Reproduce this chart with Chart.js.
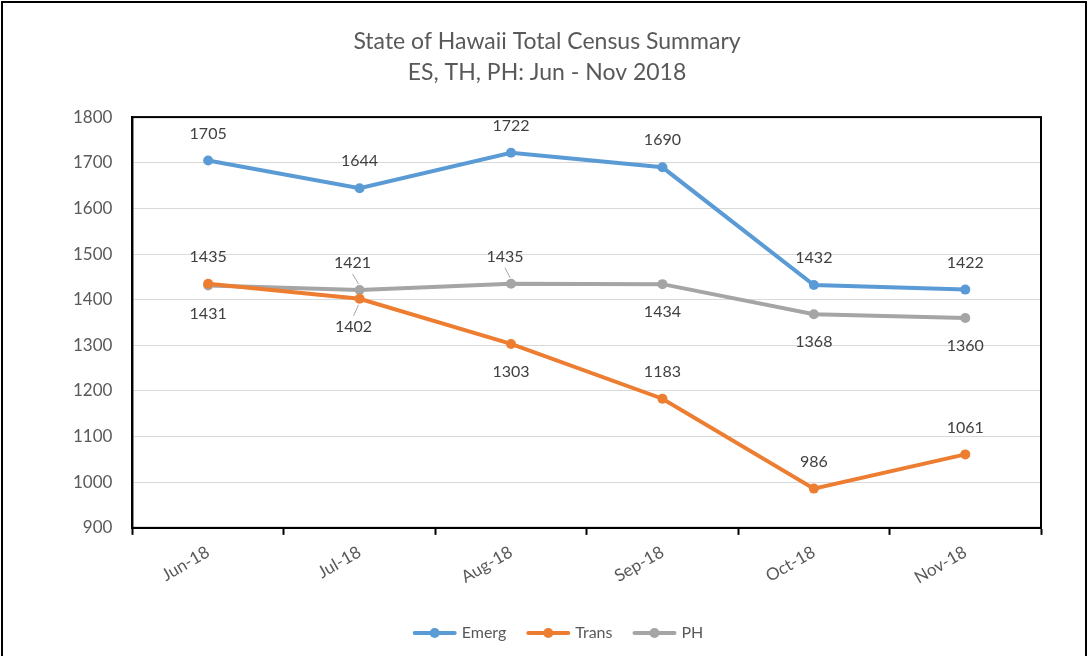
<!DOCTYPE html>
<html>
<head>
<meta charset="utf-8">
<script src="https://cdn.jsdelivr.net/npm/chart.js@4"></script>
<style>
  html, body { margin: 0; padding: 0; background: #fff; }
  #wrap { position: relative; width: 1088px; height: 656px; }
</style>
</head>
<body>
<div id="wrap"><canvas id="censusChart" width="1088" height="656"></canvas></div>
<script>
// data
var months = ['Jun-18', 'Jul-18', 'Aug-18', 'Sep-18', 'Oct-18', 'Nov-18'];
var emerg = [1705, 1644, 1722, 1690, 1432, 1422];
var trans = [1435, 1402, 1303, 1183, 986, 1061];
var ph = [1431, 1421, 1435, 1434, 1368, 1360];
var yTicks = [900, 1000, 1100, 1200, 1300, 1400, 1500, 1600, 1700, 1800];

// label placement: 1 = above the point, -1 = below
var labelSide = {
    Emerg: [1, 1, 1, 1, 1, 1],
    Trans: [1, -1, -1, 1, 1, 1],
    PH: [-1, 1, 1, -1, -1, -1]
};
// a few labels are nudged sideways with a leader line, like excel does
var labelNudge = {
    Trans: { 1: -6 },
    PH: { 1: -7, 2: -6 }
};

var FONT = 'Lato, "Open Sans", sans-serif';

// draws value labels next to the points
var pointLabels = {
    id: 'pointLabels',
    afterDatasetsDraw: function (chart) {
        var ctx = chart.ctx;
        ctx.save();
        ctx.font = '16px ' + FONT;
        ctx.fillStyle = '#404040';
        ctx.textAlign = 'center';
        ctx.textBaseline = 'middle';
        chart.data.datasets.forEach(function (ds, di) {
            var meta = chart.getDatasetMeta(di);
            var sides = labelSide[ds.label];
            var nudge = labelNudge[ds.label] || {};
            meta.data.forEach(function (pt, i) {
                var dy = sides[i] > 0 ? -27 : 28;
                var dx = nudge[i] || 0;
                var lx = pt.x + dx, ly = pt.y + dy;
                if (dx) {
                    ctx.strokeStyle = '#a6a6a6';
                    ctx.lineWidth = 1;
                    ctx.beginPath();
                    ctx.moveTo(pt.x - 1, pt.y + (sides[i] > 0 ? -6 : 6));
                    ctx.lineTo(lx, ly + (sides[i] > 0 ? 11 : -11));
                    ctx.stroke();
                }
                ctx.fillText(ds.data[i], lx, ly);
            });
        });
        ctx.restore();
    }
};

// plot frame, outer border and a line+marker legend at the bottom
var frameAndLegend = {
    id: 'frameAndLegend',
    afterDraw: function (chart) {
        var ctx = chart.ctx;
        var a = chart.chartArea;
        ctx.save();
        ctx.strokeStyle = '#000';
        ctx.lineWidth = 2;
        ctx.strokeRect(a.left, a.top, a.right - a.left, a.bottom - a.top);
        ctx.strokeRect(2, 2, chart.width - 4, chart.height + 10);

        // legend
        ctx.font = '16px ' + FONT;
        ctx.textBaseline = 'middle';
        ctx.textAlign = 'left';
        var items = chart.data.datasets;
        var symW = 44, gap = 5, spacing = 20;
        var total = 0;
        items.forEach(function (ds) {
            total += symW + gap + ctx.measureText(ds.label).width;
        });
        total += spacing * (items.length - 1);
        var x = 558 - total / 2, y = 633;
        items.forEach(function (ds) {
            ctx.strokeStyle = ds.borderColor;
            ctx.lineWidth = 4;
            ctx.lineCap = 'round';
            ctx.beginPath();
            ctx.moveTo(x + 2, y);
            ctx.lineTo(x + symW - 2, y);
            ctx.stroke();
            ctx.fillStyle = ds.borderColor;
            ctx.beginPath();
            ctx.arc(x + symW / 2, y, 5, 0, Math.PI * 2);
            ctx.fill();
            ctx.fillStyle = '#595959';
            ctx.fillText(ds.label, x + symW + gap, y);
            x += symW + gap + ctx.measureText(ds.label).width + spacing;
        });
        ctx.restore();
    }
};

var ctxCensus = document.getElementById('censusChart').getContext('2d');
var censusChart = new Chart(ctxCensus, {
    type: 'line',
    data: {
        labels: months,
        datasets: [{
            label: 'Emerg',
            data: emerg,
            borderColor: '#5b9bd5',
            backgroundColor: '#5b9bd5'
        }, {
            label: 'Trans',
            data: trans,
            borderColor: '#ed7d31',
            backgroundColor: '#ed7d31'
        }, {
            label: 'PH',
            data: ph,
            borderColor: '#a5a5a5',
            backgroundColor: '#a5a5a5'
        }]
    },
    options: {
        responsive: false,
        animation: false,
        devicePixelRatio: 1,
        elements: {
            line: { borderWidth: 4, tension: 0 },
            point: { radius: 5, borderWidth: 0, hoverRadius: 5 }
        },
        layout: {
            padding: { top: 0, left: 53, right: 47, bottom: 61 }
        },
        plugins: {
            legend: { display: false },
            tooltip: { enabled: false },
            title: {
                display: true,
                text: ['State of Hawaii Total Census Summary', 'ES, TH, PH: Jun - Nov 2018'],
                color: '#595959',
                font: { family: FONT, size: 23, weight: 'normal', lineHeight: 1.35 },
                padding: { top: 26, bottom: 29 }
            }
        },
        scales: {
            x: {
                offset: true,
                grid: {
                    offset: true,
                    drawOnChartArea: false,
                    drawTicks: true,
                    tickLength: 7,
                    tickColor: '#000',
                    tickWidth: 2
                },
                border: { display: true, color: '#000', width: 2 },
                ticks: {
                    color: '#595959',
                    font: { family: FONT, size: 17 },
                    minRotation: 30,
                    maxRotation: 30,
                    padding: 7
                }
            },
            y: {
                min: 900,
                max: 1800,
                afterBuildTicks: function (axis) {
                    axis.ticks = yTicks.map(function (v) { return { value: v }; });
                },
                grid: { color: '#d9d9d9', lineWidth: 1, drawTicks: false },
                border: { display: true, color: '#000', width: 2 },
                ticks: {
                    color: '#595959',
                    font: { family: FONT, size: 17 },
                    padding: 20,
                    callback: function (v) { return String(v); }
                }
            }
        }
    },
    plugins: [pointLabels, frameAndLegend]
});
</script>
</body>
</html>
